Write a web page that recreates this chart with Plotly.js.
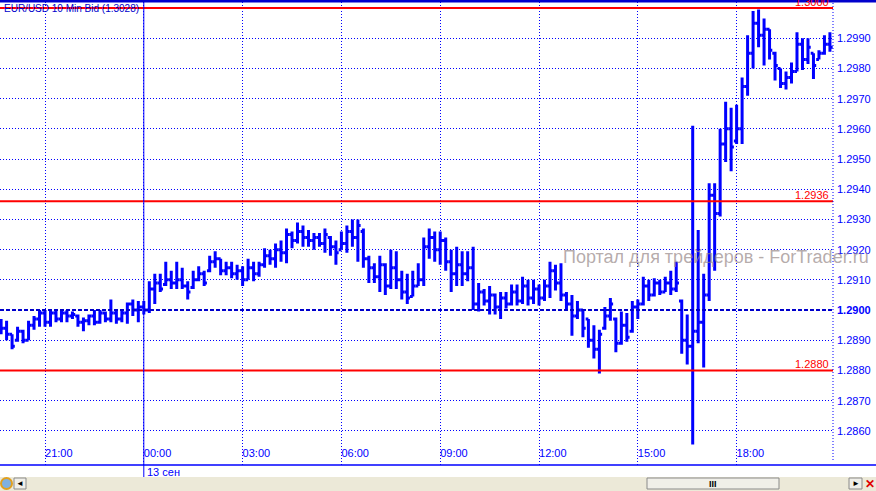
<!DOCTYPE html>
<html><head><meta charset="utf-8">
<script src="https://cdn.plot.ly/plotly-3.0.1.min.js"></script>
<style>html,body{margin:0;padding:0;background:#fff;}#chart{width:876px;height:491px;}</style>
</head><body><div id="chart"></div>
<script>
// ---- DATA ----
const chartTitle = 'EUR/USD 10 Min Bid (1.3028)';
const dateLabel = '13 сен';
const watermark = 'Портал для трейдеров - ForTrader.ru';
const firstBar = [2012, 8, 12, 19, 40]; // 12 Sep 2012 19:40, 10-minute bars
const barMinutes = 10;

const openP = [1.28960,1.28940,1.28920,1.28900,1.28930,1.28900,1.28950,1.28970,1.28990,1.28960,
1.28990,1.28970,1.28990,1.28980,1.28980,1.28960,1.28965,1.28980,1.28960,1.28990,
1.28970,1.28990,1.28970,1.28990,1.29020,1.29000,1.29010,1.29000,1.29070,1.29090,
1.29085,1.29100,1.29090,1.29100,1.29080,1.29075,1.29100,1.29120,1.29130,1.29160,
1.29170,1.29130,1.29140,1.29120,1.29130,1.29100,1.29140,1.29120,1.29150,1.29180,
1.29170,1.29200,1.29190,1.29250,1.29230,1.29260,1.29240,1.29230,1.29240,1.29220,
1.29240,1.29210,1.29200,1.29220,1.29260,1.29240,1.29260,1.29170,1.29140,1.29110,
1.29150,1.29080,1.29140,1.29100,1.29060,1.29045,1.29080,1.29100,1.29210,1.29240,
1.29200,1.29230,1.29160,1.29120,1.29150,1.29120,1.29140,1.29020,1.29060,1.29030,
1.29050,1.29010,1.29040,1.29020,1.29060,1.29030,1.29080,1.29040,1.29070,1.29040,
1.29080,1.29130,1.29090,1.29050,1.29020,1.28980,1.29000,1.28970,1.28900,1.28870,
1.28940,1.28980,1.28970,1.28890,1.28950,1.28930,1.29010,1.29020,1.29080,1.29050,
1.29090,1.29060,1.29090,1.29070,1.29030,1.28900,1.28880,1.28930,1.28960,1.29050,
1.29380,1.29320,1.29550,1.29600,1.29560,1.29600,1.29740,1.29850,1.29950,1.29910,
1.29930,1.29850,1.29800,1.29750,1.29770,1.29790,1.29880,1.29830,1.29850,1.29830,
1.29850,1.29880];
const highP = [1.28970,1.28965,1.28920,1.28945,1.28935,1.28965,1.28980,1.29000,1.29000,1.29000,
1.29000,1.29000,1.29000,1.28995,1.28985,1.28975,1.28985,1.29000,1.29000,1.28995,
1.29035,1.29000,1.29000,1.29025,1.29035,1.29030,1.29030,1.29095,1.29120,1.29120,
1.29160,1.29130,1.29160,1.29140,1.29095,1.29130,1.29145,1.29130,1.29180,1.29195,
1.29170,1.29160,1.29160,1.29150,1.29145,1.29170,1.29160,1.29160,1.29205,1.29200,
1.29220,1.29230,1.29270,1.29260,1.29290,1.29280,1.29265,1.29255,1.29255,1.29270,
1.29245,1.29230,1.29260,1.29280,1.29300,1.29300,1.29270,1.29180,1.29155,1.29180,
1.29155,1.29200,1.29195,1.29130,1.29120,1.29130,1.29155,1.29240,1.29270,1.29260,
1.29260,1.29240,1.29200,1.29210,1.29195,1.29195,1.29210,1.29090,1.29070,1.29080,
1.29055,1.29060,1.29060,1.29085,1.29085,1.29110,1.29100,1.29100,1.29085,1.29100,
1.29160,1.29150,1.29155,1.29060,1.29050,1.29030,1.29000,1.28970,1.28950,1.28935,
1.29010,1.29040,1.28975,1.28995,1.28990,1.29030,1.29035,1.29110,1.29100,1.29105,
1.29100,1.29110,1.29130,1.29160,1.29035,1.28985,1.29610,1.29265,1.29120,1.29420,
1.29420,1.29600,1.29690,1.29670,1.29680,1.29770,1.29910,1.29990,1.29995,1.29965,
1.29930,1.29855,1.29800,1.29790,1.29820,1.29920,1.29900,1.29900,1.29850,1.29860,
1.29910,1.29920];
const lowP = [1.28920,1.28900,1.28870,1.28895,1.28890,1.28900,1.28935,1.28945,1.28945,1.28945,
1.28960,1.28960,1.28960,1.28970,1.28945,1.28930,1.28950,1.28950,1.28955,1.28960,
1.28960,1.28955,1.28960,1.28955,1.28980,1.28960,1.28985,1.28990,1.29020,1.29060,
1.29080,1.29070,1.29070,1.29070,1.29035,1.29070,1.29095,1.29080,1.29125,1.29140,
1.29115,1.29115,1.29105,1.29100,1.29080,1.29100,1.29095,1.29110,1.29140,1.29150,
1.29140,1.29160,1.29155,1.29205,1.29220,1.29210,1.29210,1.29200,1.29210,1.29190,
1.29180,1.29150,1.29200,1.29190,1.29210,1.29160,1.29140,1.29090,1.29090,1.29060,
1.29050,1.29070,1.29070,1.29035,1.29020,1.29045,1.29080,1.29080,1.29170,1.29160,
1.29150,1.29130,1.29060,1.29080,1.29080,1.29095,1.29000,1.28995,1.29015,1.28985,
1.28985,1.28970,1.29005,1.29015,1.29015,1.29020,1.29015,1.29020,1.29015,1.29030,
1.29040,1.29065,1.29030,1.29000,1.28915,1.28970,1.28910,1.28875,1.28840,1.28790,
1.28935,1.28965,1.28860,1.28885,1.28895,1.28925,1.28970,1.29015,1.29030,1.29045,
1.29050,1.29060,1.29050,1.29060,1.28855,1.28820,1.28555,1.28890,1.28810,1.29030,
1.29130,1.29310,1.29490,1.29460,1.29550,1.29550,1.29710,1.29800,1.29870,1.29810,
1.29830,1.29760,1.29735,1.29730,1.29750,1.29790,1.29795,1.29815,1.29765,1.29830,
1.29845,1.29855];
const closeP = [1.28940,1.28920,1.28880,1.28930,1.28900,1.28950,1.28970,1.28990,1.28960,1.28990,
1.28970,1.28990,1.28980,1.28985,1.28960,1.28965,1.28980,1.28960,1.28990,1.28970,
1.28990,1.28970,1.28990,1.29020,1.29000,1.29010,1.29000,1.29070,1.29090,1.29070,
1.29100,1.29090,1.29100,1.29080,1.29060,1.29100,1.29120,1.29090,1.29160,1.29170,
1.29130,1.29140,1.29120,1.29130,1.29100,1.29140,1.29120,1.29150,1.29180,1.29170,
1.29200,1.29190,1.29250,1.29230,1.29260,1.29240,1.29230,1.29240,1.29220,1.29250,
1.29210,1.29190,1.29220,1.29260,1.29240,1.29280,1.29170,1.29140,1.29110,1.29150,
1.29080,1.29140,1.29100,1.29060,1.29040,1.29080,1.29100,1.29210,1.29240,1.29200,
1.29230,1.29160,1.29120,1.29150,1.29120,1.29140,1.29020,1.29060,1.29030,1.29050,
1.29010,1.29040,1.29020,1.29060,1.29030,1.29080,1.29040,1.29070,1.29040,1.29080,
1.29130,1.29090,1.29050,1.29020,1.28980,1.29000,1.28940,1.28900,1.28870,1.28920,
1.28980,1.29020,1.28890,1.28950,1.28910,1.29010,1.29020,1.29080,1.29050,1.29090,
1.29060,1.29090,1.29070,1.29090,1.28900,1.28880,1.28930,1.28960,1.29050,1.29380,
1.29320,1.29550,1.29600,1.29540,1.29600,1.29740,1.29850,1.29950,1.29910,1.29930,
1.29860,1.29810,1.29750,1.29770,1.29790,1.29880,1.29830,1.29870,1.29810,1.29850,
1.29880,1.29870];

const timeTickVals = ['2012-09-12 21:00','2012-09-13 00:00','2012-09-13 03:00','2012-09-13 06:00',
  '2012-09-13 09:00','2012-09-13 12:00','2012-09-13 15:00','2012-09-13 18:00'];
const timeTickText = ['21:00','00:00','03:00','06:00','09:00','12:00','15:00','18:00'];
const dayBreak = '2012-09-13 00:00';
const priceTicks = [1.2860,1.2870,1.2880,1.2890,1.2900,1.2910,1.2920,1.2930,1.2940,1.2950,1.2960,1.2970,1.2980,1.2990];
const priceTickText = ['1.2860','1.2870','1.2880','1.2890','<b>1.2900</b>','1.2910','1.2920','1.2930','1.2940','1.2950','1.2960','1.2970','1.2980','1.2990'];
const redLevels = [1.3000, 1.2936, 1.2880];
const redLabels = ['1.3000', '1.2936', '1.2880'];
const currentLevel = 1.2900;

// ---- BUILD ----
function fmt(ms){
  const d = new Date(ms); const p = n => String(n).padStart(2,'0');
  return d.getUTCFullYear()+'-'+p(d.getUTCMonth()+1)+'-'+p(d.getUTCDate())+' '+p(d.getUTCHours())+':'+p(d.getUTCMinutes());
}
const t0 = Date.UTC(...firstBar);
const times = openP.map((_, i) => fmt(t0 + i*barMinutes*60000));

const BLUE = '#0000ff';
const W = 833, H = 463, TOP = 2; // plot area in px
const px = x => x / W;               // paper x from pixel
const py = y => (TOP + H - y) / H;   // paper y from pixel

const trace = {
  type: 'ohlc', x: times, open: openP, high: highP, low: lowP, close: closeP,
  line: {width: 3},
  increasing: {line: {color: BLUE, width: 3}},
  decreasing: {line: {color: BLUE, width: 3}},
  tickwidth: 0.5, hoverinfo: 'skip', showlegend: false
};

const shapes = [];
redLevels.forEach(v => shapes.push({type:'line', xref:'paper', yref:'y', x0:0, x1:1, y0:v, y1:v,
  line:{color:'#ff0000', width:2}, layer:'above'}));
shapes.push({type:'line', xref:'paper', yref:'y', x0:0, x1:1, y0:currentLevel, y1:currentLevel,
  line:{color:'#0000cc', width:2, dash:'4px,2px'}, layer:'above'});
shapes.push({type:'line', xref:'x', yref:'paper', x0:dayBreak, x1:dayBreak, y0:py(477), y1:py(0),
  line:{color:BLUE, width:1}, layer:'above'});
shapes.push({type:'line', xref:'paper', yref:'paper', x0:1, x1:1, y0:py(460), y1:py(2),
  line:{color:BLUE, width:1, dash:'1px,2px'}, layer:'above'});
shapes.push({type:'line', xref:'paper', yref:'paper', x0:0, x1:px(876), y0:py(1), y1:py(1),
  line:{color:'#0000cc', width:3}, layer:'above'});
shapes.push({type:'line', xref:'paper', yref:'paper', x0:0, x1:px(876), y0:py(465), y1:py(465),
  line:{color:BLUE, width:1.5}, layer:'above'});
shapes.push({type:'rect', xref:'paper', yref:'paper', x0:0, x1:px(876), y0:py(491), y1:py(477),
  fillcolor:'#ece9d8', line:{width:0}, layer:'above'});
shapes.push({type:'rect', xref:'paper', yref:'paper', x0:px(647), x1:px(779), y0:py(489), y1:py(478),
  fillcolor:'#f0efe8', line:{color:'#8a8a8a', width:1}, layer:'above'});
shapes.push({type:'rect', xref:'paper', yref:'paper', x0:px(14), x1:px(26), y0:py(489), y1:py(478),
  fillcolor:'#f0efe8', line:{color:'#8a8a8a', width:1}, layer:'above'});
shapes.push({type:'rect', xref:'paper', yref:'paper', x0:px(849), x1:px(862), y0:py(489), y1:py(478),
  fillcolor:'#f0efe8', line:{color:'#8a8a8a', width:1}, layer:'above'});
shapes.push({type:'circle', xref:'paper', yref:'paper', x0:px(1), x1:px(12), y0:py(489), y1:py(478),
  fillcolor:'#7fb0e0', line:{color:'#e0a020', width:2}, layer:'above'});

const annotations = [
  {xref:'paper', yref:'paper', x:0, y:1, xanchor:'left', yanchor:'top', xshift:2, yshift:1,
   text:chartTitle, showarrow:false, font:{size:10, color:'#0000cc'}},
  {xref:'paper', yref:'y', x:px(716), y:1.29176, xanchor:'center', yanchor:'middle',
   text:watermark, showarrow:false, font:{size:18, color:'rgba(150,135,135,0.7)'}},
  {xref:'x', yref:'paper', x:dayBreak, y:py(465), xanchor:'left', yanchor:'top', xshift:1, yshift:1,
   text:dateLabel, showarrow:false, font:{size:11, color:BLUE}},
  {xref:'paper', yref:'paper', x:px(713), y:py(483.5), xanchor:'center', yanchor:'middle',
   text:'<b>III</b>', showarrow:false, font:{size:9, color:'#000'}},
  {xref:'paper', yref:'paper', x:px(20), y:py(483.5), xanchor:'center', yanchor:'middle',
   text:'◄', showarrow:false, font:{size:8, color:'#000'}},
  {xref:'paper', yref:'paper', x:px(856), y:py(483.5), xanchor:'center', yanchor:'middle',
   text:'►', showarrow:false, font:{size:8, color:'#000'}},
  {xref:'paper', yref:'paper', x:px(870), y:py(483.5), xanchor:'center', yanchor:'middle',
   text:'<b>✕</b>', showarrow:false, font:{size:12, color:'#e00000'}}
];
redLevels.forEach((v, k) => annotations.push({xref:'paper', yref:'y', x:1, y:v, xanchor:'right', yanchor:'bottom',
  xshift:-2, yshift:-2, text:redLabels[k], showarrow:false, font:{size:11, color:'#ff0000'}}));

const layout = {
  width:876, height:491, margin:{l:0, r:43, t:2, b:26, pad:0},
  paper_bgcolor:'#ffffff', plot_bgcolor:'#ffffff', showlegend:false, dragmode:false,
  font:{family:'Liberation Sans, Arial, sans-serif', size:11, color:BLUE},
  xaxis:{type:'date', range:['2012-09-12 19:38','2012-09-13 20:55:36'], rangeslider:{visible:false},
    tickmode:'array', tickvals:timeTickVals, ticktext:timeTickText, ticklabelposition:'inside right',
    ticks:'', showgrid:true, gridcolor:BLUE, gridwidth:1, griddash:'1px,2px', zeroline:false, showline:false,
    tickfont:{size:11, color:BLUE}, fixedrange:true},
  yaxis:{side:'right', range:[1.28487, 1.30020], tickmode:'array', tickvals:priceTicks, ticktext:priceTickText,
    ticks:'', showgrid:true, gridcolor:BLUE, gridwidth:1, griddash:'1px,2px', zeroline:false, showline:false,
    tickfont:{size:11, color:BLUE}, ticklabelstandoff:3, fixedrange:true},
  shapes:shapes, annotations:annotations
};
Plotly.newPlot('chart', [trace], layout, {staticPlot:true, displayModeBar:false});
</script></body></html>
